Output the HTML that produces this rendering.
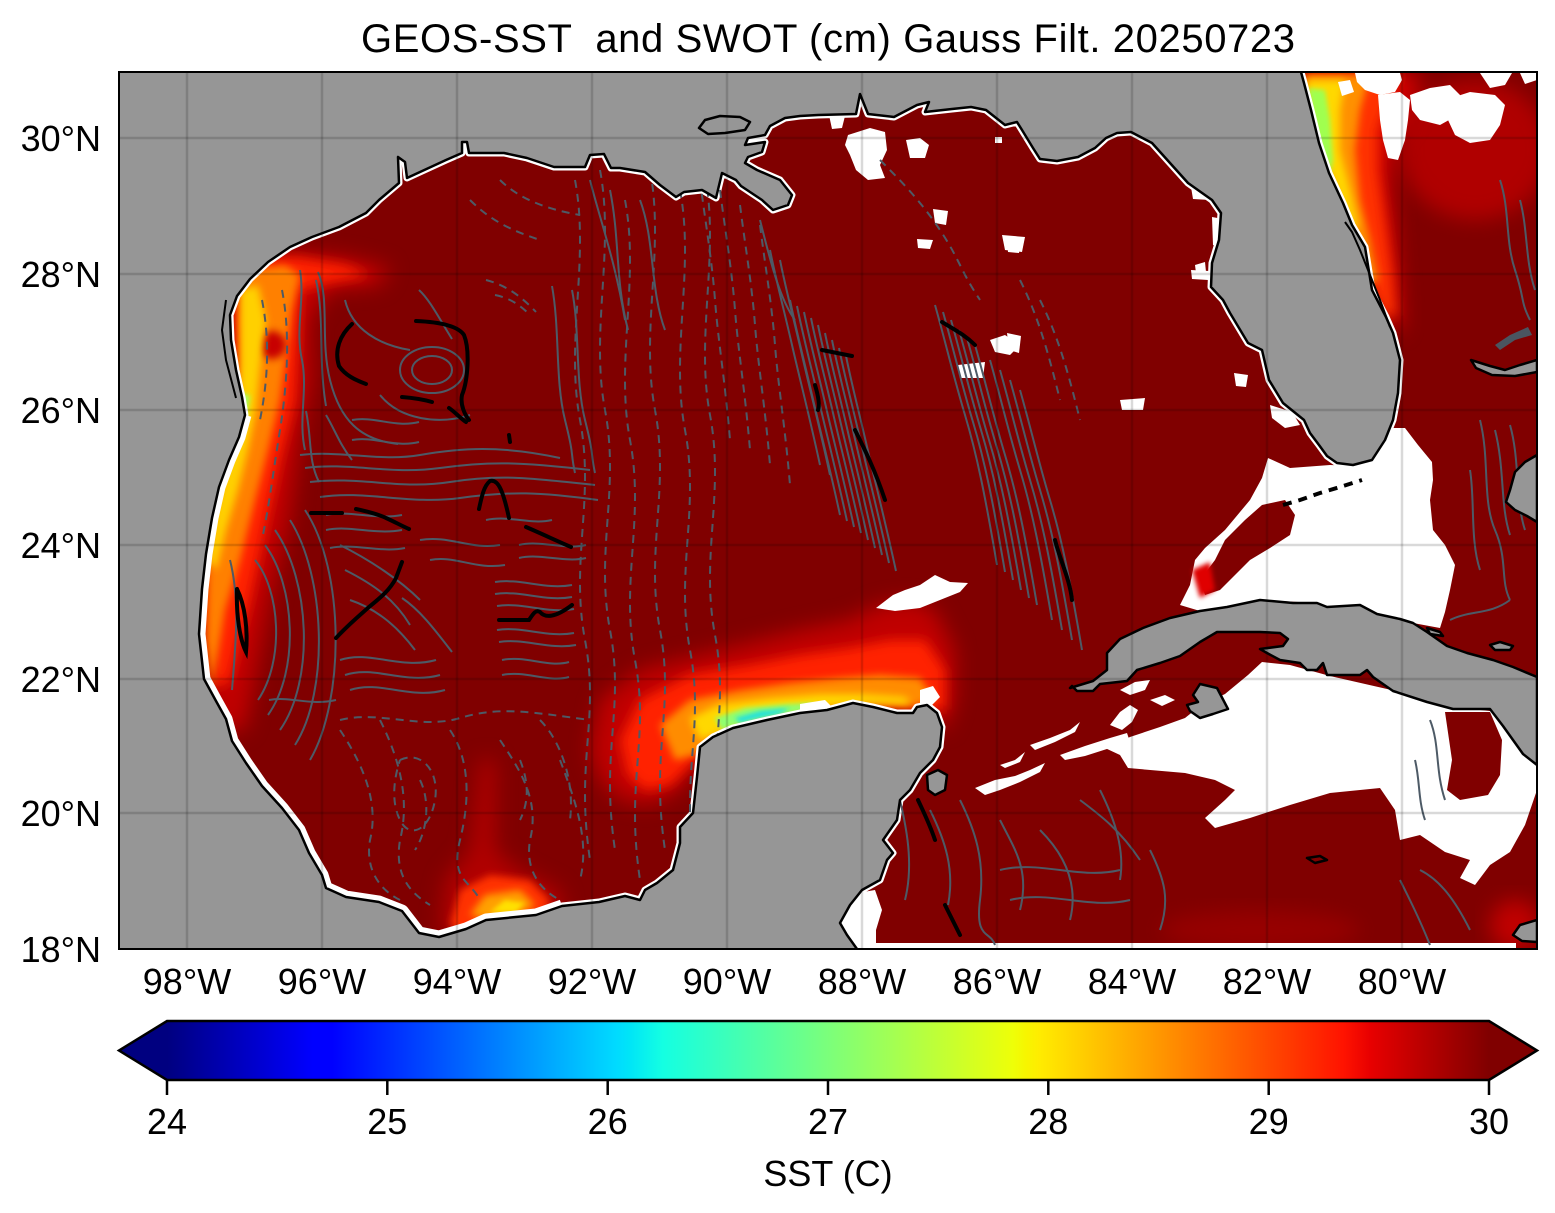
<!DOCTYPE html>
<html><head><meta charset="utf-8"><style>
html,body{margin:0;padding:0;background:#fff;}
svg{display:block;}
text{font-family:"Liberation Sans",Arial,sans-serif;fill:#000;}
</style></head><body>
<svg width="1555" height="1213" viewBox="0 0 1555 1213" xmlns="http://www.w3.org/2000/svg">
<defs>
<clipPath id="frame"><rect x="119" y="72" width="1418" height="877"/></clipPath>
<clipPath id="oc"><path d="M1301,72 L1304,83 1311,110 1319,143 1329,173 1343,203 1352,225 1365,247 1372,290 1386,317 1393,333 1400,360 1398,393 1393,420 1385,440 1372,460 1353,465 1337,463 1327,456 1319,445 1310,433 1304,420 1283,403 1269,380 1262,350 1248,343 1230,313 1223,300 1211,287 1212,263 1219,240 1221,213 1212,200 1188,183 1170,163 1152,143 1131,132 1117,133 1106,138 1095,148 1078,157 1057,161 1040,159 1033,148 1022,130 1017,122 1005,125 986,110 971,107 952,109 925,112 929,102 917,105 894,117 868,114 860,94 856,114 818,115 800,116 785,118 770,126 765,135 748,138 745,145 765,142 762,152 748,157 745,163 757,170 780,180 792,195 788,205 773,210 762,200 741,186 736,180 722,173 716,198 702,190 684,192 676,197 660,185 645,172 620,168 611,168 604,154 590,155 585,167 554,167 527,158 504,153 469,153 467,142 462,142 462,153 446,160 420,172 407,178 405,162 398,157 399,183 379,200 366,213 339,227 312,237 290,247 268,262 250,279 237,296 230,315 231,340 236,370 242,397 245,415 239,437 229,460 219,487 212,518 206,554 202,589 199,634 204,679 216,701 226,719 232,741 246,763 262,786 282,808 299,830 309,853 322,875 326,888 346,897 379,902 402,911 419,933 439,937 466,929 486,920 536,915 562,906 599,902 625,896 640,900 645,890 657,883 673,870 680,843 680,827 693,813 697,777 700,747 713,737 733,728 767,720 800,713 827,710 853,703 873,707 897,713 913,713 917,707 927,705 937,713 942,727 940,747 933,760 920,773 910,790 900,800 897,820 890,830 883,840 893,853 887,860 880,880 862,890 850,905 840,923 847,935 857,949 L1537,949 1537,72 Z"/></clipPath>
<filter id="b10" x="-30%" y="-30%" width="160%" height="160%"><feGaussianBlur stdDeviation="10"/></filter>
<filter id="b6" x="-30%" y="-30%" width="160%" height="160%"><feGaussianBlur stdDeviation="6"/></filter>
<filter id="b4" x="-30%" y="-30%" width="160%" height="160%"><feGaussianBlur stdDeviation="4"/></filter>
<filter id="b2" x="-30%" y="-30%" width="160%" height="160%"><feGaussianBlur stdDeviation="2.5"/></filter>
<linearGradient id="jet" x1="167" y1="0" x2="1489" y2="0" gradientUnits="userSpaceOnUse">
<stop offset="0" stop-color="#000080"/>
<stop offset="0.11" stop-color="#0000ff"/>
<stop offset="0.125" stop-color="#0000ff"/>
<stop offset="0.34" stop-color="#00dbff"/>
<stop offset="0.35" stop-color="#00e5f7"/>
<stop offset="0.375" stop-color="#14ffe2"/>
<stop offset="0.5" stop-color="#7bff7b"/>
<stop offset="0.64" stop-color="#eeff08"/>
<stop offset="0.65" stop-color="#f7f500"/>
<stop offset="0.66" stop-color="#ffec00"/>
<stop offset="0.89" stop-color="#ff1300"/>
<stop offset="0.91" stop-color="#e80000"/>
<stop offset="1" stop-color="#800000"/>
</linearGradient>
<path id="dg" d="M0,0 C6,30 14,60 22,95 S38,160 50,215"/>
<path id="dg2" d="M0,0 C10,35 18,70 30,110 S50,190 62,260"/>
<path id="dd" d="M0,0 C5,40 12,80 15,120 S25,200 30,260"/>
<path id="vw" d="M0,0 C15,80 -10,160 5,240 S-5,380 10,460 S0,580 15,680"/>
<path id="hw" d="M0,0 C20,-5 40,6 60,0 S100,-6 120,0"/>
</defs>

<!-- Title -->
<text x="828" y="52" font-size="40" text-anchor="middle" xml:space="preserve" style="white-space:pre" textLength="934" lengthAdjust="spacing">GEOS-SST  and SWOT (cm) Gauss Filt. 20250723</text>

<!-- Land -->
<rect x="119" y="72" width="1418" height="877" fill="#969696"/>

<g clip-path="url(#frame)">
<rect x="119" y="72" width="1418" height="877" fill="#800000" clip-path="url(#oc)"/>

<g clip-path="url(#oc)">
 <!-- Texas plume -->
 <polygon filter="url(#b10)" fill="#c00000" points="232,255 300,252 350,258 390,268 380,285 330,290 310,320 312,380 300,440 290,520 270,600 255,680 245,730 215,730 200,640 205,540 220,470 232,400 228,320"/>
 <polygon filter="url(#b6)" fill="#ff2400" points="238,260 295,257 345,265 370,275 330,282 300,290 298,340 295,400 280,460 265,530 250,600 230,680 215,690 205,620 210,540 225,470 238,400 233,320"/>
 <polygon filter="url(#b4)" fill="#ff8000" points="242,270 285,265 300,275 292,310 287,350 280,400 268,450 255,500 240,560 225,610 212,690 206,640 208,560 220,490 235,430 242,380 240,320"/>
 <circle filter="url(#b4)" fill="#c80000" cx="272" cy="345" r="14"/>
 <polygon filter="url(#b4)" fill="#ffd000" points="240,290 258,285 266,320 260,370 256,410 248,450 238,490 226,530 216,570 208,560 215,510 228,460 238,420 240,360"/>
 <polygon filter="url(#b2)" fill="#a0ff60" points="240,392 250,396 246,420 237,416"/>
 <!-- Yucatan plume -->
 <polygon filter="url(#b10)" fill="#c00000" points="590,750 600,700 640,670 700,655 760,640 800,630 850,620 880,605 910,600 935,610 955,650 955,700 945,730 920,712 870,708 820,713 770,722 735,730 713,740 700,760 680,790 650,805 620,800 600,780"/>
 <polygon filter="url(#b6)" fill="#ff2400" points="620,740 640,700 690,675 750,665 800,655 850,648 890,640 925,640 945,670 945,710 920,708 870,706 820,710 770,720 735,728 712,740 695,760 670,785 645,790 628,775"/>
 <polygon filter="url(#b4)" fill="#ff8c00" points="660,725 690,700 740,690 790,683 840,678 880,675 920,678 935,700 915,706 870,704 825,708 780,716 740,726 715,738 695,755 675,760"/>
 <polygon filter="url(#b4)" fill="#ffd800" points="690,718 720,704 770,698 820,694 860,694 905,697 912,705 870,704 825,707 785,713 745,722 715,735 700,740"/>
 <polygon filter="url(#b2)" fill="#90ff70" points="715,718 745,708 790,704 815,703 800,712 770,717 740,724 722,730"/>
 <polygon filter="url(#b2)" fill="#20e0e0" points="735,718 760,711 790,708 780,714 755,719 740,723"/>
 <!-- Campeche plume -->
 <polygon filter="url(#b10)" fill="#b00000" points="440,935 445,880 470,850 480,760 495,760 495,850 520,870 560,890 565,915 500,920 460,935"/>
 <polygon filter="url(#b4)" fill="#ff3000" points="450,925 460,890 490,875 530,880 550,900 545,915 490,922 460,932"/>
 <polygon filter="url(#b4)" fill="#ffa000" points="470,915 485,895 520,890 535,905 520,915 490,920"/>
 <polygon filter="url(#b2)" fill="#ffe000" points="490,912 505,900 525,903 515,913"/>
 <!-- Florida Atlantic plume -->
 <ellipse filter="url(#b10)" fill="#c00000" opacity="0.75" cx="1475" cy="150" rx="75" ry="70"/>
 <polygon filter="url(#b10)" fill="#d00000" points="1300,72 1420,72 1415,110 1395,140 1390,180 1395,230 1400,290 1402,330 1390,330 1380,300 1365,250 1340,200 1320,150 1305,90"/>
 <polygon filter="url(#b6)" fill="#ff3000" points="1303,72 1400,72 1390,100 1378,130 1378,170 1385,220 1392,270 1396,315 1385,318 1372,290 1365,250 1343,203 1329,173 1315,125 1304,83"/>
 <polygon filter="url(#b4)" fill="#ff9000" points="1305,75 1370,75 1360,110 1355,150 1360,200 1370,240 1378,280 1370,285 1360,250 1345,210 1330,175 1318,135 1306,90"/>
 <polygon filter="url(#b4)" fill="#ffd800" points="1306,80 1345,80 1340,110 1340,150 1350,190 1358,225 1352,232 1342,205 1328,170 1318,130 1308,95"/>
 <polygon filter="url(#b2)" fill="#a0ff50" points="1308,88 1325,90 1330,120 1333,160 1330,175 1320,150 1313,120"/>
 <!-- Caribbean lighter reds -->
 <ellipse filter="url(#b10)" fill="#a00000" opacity="0.7" cx="1260" cy="930" rx="100" ry="20"/>
 <ellipse filter="url(#b10)" fill="#d00000" opacity="0.8" cx="1515" cy="925" rx="25" ry="25"/>

 <!-- white coastal fringe -->
 <path fill="none" stroke="#fff" stroke-width="7" stroke-linejoin="round" d="M1301,72 L1304,83 1311,110 1319,143 1329,173 1343,203 1352,225 1365,247 1372,290 1386,317 1393,333 1400,360 1398,393 1393,420 1385,440 1372,460 1353,465 1337,463 1327,456 1319,445 1310,433 1304,420 1283,403 1269,380 1262,350 1248,343 1230,313 1223,300 1211,287 1212,263 1219,240 1221,213 1212,200 1188,183 1170,163 1152,143 1131,132 1117,133 1106,138 1095,148 1078,157 1057,161 1040,159 1033,148 1022,130 1017,122 1005,125 986,110 971,107 952,109 925,112 929,102 917,105 894,117 868,114 860,94 856,114 818,115 800,116 785,118 770,126 765,135 748,138 745,145 765,142 762,152 748,157 745,163 757,170 780,180 792,195 788,205 773,210 762,200 741,186 736,180 722,173 716,198 702,190 684,192 676,197 660,185 645,172 620,168 611,168 604,154 590,155 585,167 554,167 527,158 504,153 469,153 467,142 462,142 462,153 446,160 420,172 407,178 405,162 398,157 399,183 379,200 366,213 339,227 312,237 290,247 268,262 250,279 237,296 230,315 231,340 236,370 242,397 245,415 239,437 229,460 219,487 212,518 206,554 202,589 199,634 204,679 216,701 226,719 232,741 246,763 262,786 282,808 299,830 309,853 322,875 326,888 346,897 379,902 402,911 419,933 439,937 466,929 486,920 536,915 562,906 599,902 625,896 640,900 645,890 657,883 673,870 680,843 680,827 693,813 697,777 700,747 713,737 733,728 767,720 800,713 827,710 853,703 873,707 897,713 913,713 917,707 927,705 937,713 942,727 940,747 933,760 920,773 910,790 900,800 897,820 890,830 883,840 893,853 887,860 880,880 862,890 850,905 840,923 847,935 857,949"/>
 <path fill="none" stroke="#fff" stroke-width="13" stroke-linejoin="round" d="M245,415 239,437 229,460 219,487 212,518 206,554 202,589 199,634 204,679 216,701 226,719 232,741 246,763 262,786 282,808 299,830 309,853 322,875 326,888 346,897 379,902 402,911 419,933 439,937 466,929 486,920 536,915 562,906"/>

 <!-- white missing-data patches -->
 <g fill="#fff">
  <polygon points="1355,73 1400,73 1402,80 1395,92 1380,95 1365,90 1357,82"/>
  <polygon points="1378,95 1400,92 1410,100 1408,120 1405,140 1398,160 1388,158 1383,140 1380,120"/>
  <polygon points="1410,95 1430,88 1450,85 1460,95 1458,115 1440,125 1420,120 1412,110"/>
  <polygon points="1445,100 1470,92 1495,95 1505,105 1500,125 1490,140 1470,143 1455,135 1448,120"/>
  <polygon points="1480,73 1512,73 1505,85 1490,88"/>
  <polygon points="1338,82 1350,80 1354,92 1342,96"/>
  <polygon points="1520,73 1537,73 1537,80 1525,84"/>
  <!-- NE gulf -->
  <polygon points="848,135 870,128 885,132 887,150 880,165 885,178 868,180 856,170 850,155 845,145"/>
  <polygon points="906,140 920,138 929,145 925,158 910,158"/>
  <polygon points="829,115 845,116 842,128 832,129"/>
  <polygon points="933,209 948,211 946,225 935,223"/>
  <polygon points="917,239 933,240 930,249 918,248"/>
  <polygon points="1002,235 1025,237 1022,252 1005,250"/>
  <polygon points="995,137 1002,137 1002,143 995,143"/>
  <polygon points="1191,187 1212,189 1210,200 1193,199"/>
  <polygon points="1212,217 1223,219 1221,247 1213,245"/>
  <polygon points="1191,270 1209,271 1208,280 1192,279"/>
  <polygon points="1007,237 1021,239 1019,253 1008,252"/>
  <polygon points="1007,333 1021,336 1019,353 1009,350"/>
  <polygon points="1120,400 1145,398 1143,410 1122,410"/>
  <polygon points="1234,373 1248,375 1246,387 1236,386"/>
  <polygon points="1270,405 1292,412 1300,425 1285,428 1272,418"/>
  <polygon points="958,365 985,362 983,378 960,378"/>
  <polygon points="990,340 1005,335 1020,345 1010,355 995,352"/>
  <polygon points="1195,265 1205,262 1206,272 1196,273"/>
  <!-- mid gulf -->
  <polygon points="876,608 893,595 905,590 920,585 935,575 950,582 968,583 960,592 940,600 920,608 895,611"/>
  <!-- Yucatan coast -->
  <polygon points="800,704 825,700 833,708 815,715 800,716"/>
  <polygon points="920,690 933,686 940,697 932,705 920,703"/>
  <!-- Belize wedge -->
  <polygon points="857,893 875,890 882,910 876,930 876,949 857,949 847,935 840,923 850,905"/>
  <!-- Yucatan channel streaks -->
  <polygon points="975,788 995,780 1015,776 1030,770 1045,763 1040,772 1020,782 1000,790 985,795"/>
  <polygon points="1000,765 1015,760 1025,752 1020,762 1005,768"/>
  <polygon points="1030,745 1050,738 1070,730 1080,722 1075,732 1055,742 1035,750"/>
  <polygon points="1060,755 1085,746 1110,738 1127,733 1130,742 1110,748 1085,756 1065,760"/>
  <polygon points="1110,725 1120,712 1130,705 1138,710 1132,722 1122,730"/>
  <polygon points="1120,690 1135,682 1150,680 1145,690 1130,695"/>
  <polygon points="1150,700 1165,695 1175,700 1162,706"/>
  <!-- north of Cuba -->
  <polygon points="1180,605 1190,585 1195,560 1205,548 1225,530 1240,512 1250,500 1262,478 1268,458 1290,468 1330,465 1355,466 1372,462 1382,446 1390,428 1405,428 1418,445 1432,462 1433,480 1430,500 1433,530 1445,545 1455,565 1450,590 1445,612 1440,628 1413,623 1400,619 1377,614 1360,605 1327,607 1317,603 1260,600 1227,607 1200,611"/>
  <!-- south of Cuba -->
  <polygon points="1105,748 1130,737 1160,727 1185,718 1200,706 1225,694 1248,675 1262,662 1290,665 1330,676 1400,692 1460,708 1500,712 1537,740 1537,790 1525,825 1510,852 1490,865 1475,885 1460,878 1470,860 1445,852 1420,835 1400,840 1395,810 1380,788 1330,793 1290,805 1250,818 1215,828 1205,818 1225,800 1235,790 1215,780 1185,773 1128,768 1120,755"/>
  <rect x="876" y="943" width="640" height="6"/>
 </g>
 <g fill="#800000">
  <polygon points="1215,560 1225,540 1245,520 1262,505 1285,500 1295,515 1290,535 1270,548 1250,560 1235,575 1220,590 1205,595 1200,580"/>
  <polygon points="1445,712 1490,712 1502,740 1500,775 1488,795 1460,800 1447,790 1452,760"/>
  <polygon points="1440,470 1460,470 1470,520 1460,560 1445,545 1436,510"/>
 </g>
 <polygon filter="url(#b2)" fill="#e00000" points="1192,570 1210,562 1215,590 1200,598"/>

 <!-- gray contours -->
 <g fill="none" stroke="#4d5a66" stroke-width="2">
  <path d="M300,270 C305,300 295,330 302,360 C308,390 298,420 305,450"/>
  <path d="M318,272 C330,300 320,340 330,380 C340,420 360,440 398,444"/>
  <path d="M345,300 C352,330 380,345 410,350"/>
  <path d="M316,280 C325,320 318,360 326,406"/>
  <path d="M306,411 C312,440 308,460 319,482"/>
  <path d="M326,415 C335,430 340,445 352,460"/>
  <path d="M352,420 C375,416 395,428 419,422"/>
  <path d="M352,440 C375,436 395,448 419,442"/>
  <path d="M419,290 C430,300 440,320 452,339"/>
  <path d="M552,286 C560,330 555,380 565,420 S570,450 575,473"/>
  <path d="M572,290 C580,330 575,380 585,420 S590,450 595,473"/>
  <ellipse cx="432" cy="370" rx="20" ry="14"/>
  <ellipse cx="432" cy="370" rx="32" ry="23"/>
  <path d="M380,395 C400,420 440,425 470,415"/>
  <path d="M300,455 C340,450 380,462 420,455 S500,445 560,458"/>
  <path d="M305,468 C350,462 390,475 440,468 S520,462 590,470"/>
  <path d="M310,482 C360,476 400,490 450,482 S530,478 595,485"/>
  <path d="M320,497 C365,490 410,505 460,498 S540,492 598,500"/>
  <path d="M326,515 C350,510 375,520 402,515"/>
  <path d="M326,530 C350,525 375,535 402,530"/>
  <path d="M330,548 C355,543 380,553 405,548"/>
  <path d="M486,520 C510,515 530,525 552,520"/>
  <path d="M519,545 C540,540 565,550 586,545"/>
  <path d="M519,558 C540,553 565,563 586,558"/>
  <path d="M255,560 C280,590 285,660 258,700"/>
  <path d="M265,545 C295,585 300,670 268,715"/>
  <path d="M275,530 C310,580 315,680 280,730"/>
  <path d="M290,520 C325,575 330,690 295,745"/>
  <path d="M305,510 C345,570 345,700 310,760"/>
  <path d="M340,545 C370,560 400,580 420,600"/>
  <path d="M345,570 C375,585 395,600 410,625"/>
  <path d="M350,600 C380,610 400,630 415,650"/>
  <path d="M402,598 C420,610 435,630 452,652"/>
  <path d="M495,582 C520,578 545,590 572,585"/>
  <path d="M495,594 C520,590 545,602 572,597"/>
  <path d="M497,606 C522,602 547,614 574,609"/>
  <path d="M497,630 C522,626 547,638 574,633"/>
  <path d="M499,642 C524,638 549,650 576,645"/>
  <path d="M502,660 C525,655 548,668 569,662"/>
  <path d="M502,675 C525,670 548,683 569,677"/>
  <path d="M340,660 C370,650 400,670 436,660"/>
  <path d="M345,675 C375,665 405,685 440,675"/>
  <path d="M350,690 C380,680 410,700 445,690"/>
  <path d="M269,700 C290,696 310,706 336,700"/>
  <path d="M420,540 C450,535 470,550 500,545"/>
  <path d="M430,560 C455,555 475,570 505,565"/>
  <path d="M590,180 C600,220 615,260 625,320"/>
  <path d="M760,220 C770,260 780,300 795,320"/>
  <path d="M640,200 C655,240 650,290 665,330"/>
  <path d="M610,190 C620,240 615,280 628,330"/>
  <path d="M230,560 C240,600 236,640 232,690"/>
 </g>
 <g fill="none" stroke="#4d5a66" stroke-width="2">
  <use href="#dg" x="790" y="300"/><use href="#dg" x="797" y="306"/><use href="#dg" x="804" y="312"/>
  <use href="#dg" x="811" y="318"/><use href="#dg" x="818" y="325"/><use href="#dg" x="825" y="333"/>
  <use href="#dg" x="832" y="340"/><use href="#dg" x="839" y="348"/><use href="#dg" x="846" y="356"/>
  <use href="#dg" x="780" y="260"/><use href="#dg" x="770" y="250"/>
  <use href="#dg2" x="935" y="305"/><use href="#dg2" x="943" y="312"/><use href="#dg2" x="951" y="320"/>
  <use href="#dg2" x="959" y="330"/><use href="#dg2" x="967" y="338"/><use href="#dg2" x="975" y="345"/>
  <use href="#dg2" x="990" y="360"/><use href="#dg2" x="1000" y="370"/><use href="#dg2" x="1010" y="380"/>
  <use href="#dg2" x="1020" y="390"/>
  <path d="M895,780 C905,820 915,860 905,900"/>
  <path d="M930,810 C945,840 955,870 948,905"/>
  <path d="M960,800 C975,830 985,860 980,900 S990,930 995,945"/>
  <path d="M1000,820 C1015,850 1030,870 1020,910"/>
  <path d="M1040,830 C1060,850 1080,880 1070,920"/>
  <path d="M1000,870 C1040,860 1080,880 1120,870"/>
  <path d="M1010,900 C1050,890 1090,910 1130,900"/>
  <path d="M1100,790 C1115,820 1125,850 1120,880"/>
  <path d="M1150,850 C1165,880 1170,900 1160,930"/>
  <path d="M1080,800 C1100,815 1120,830 1140,860"/>
  <path d="M1480,420 C1490,460 1482,500 1495,530 S1500,580 1510,600"/>
  <path d="M1495,430 C1505,470 1500,505 1510,535"/>
  <path d="M1510,425 C1520,460 1515,500 1525,530"/>
  <path d="M1470,470 C1475,500 1470,540 1480,570"/>
  <path d="M1500,180 C1510,210 1505,240 1515,270 S1520,300 1530,320"/>
  <path d="M1520,200 C1528,230 1525,260 1535,290"/>
  <path d="M1430,720 C1440,745 1435,770 1445,800"/>
  <path d="M1415,760 C1420,780 1418,800 1425,820"/>
  <path d="M1450,620 C1470,610 1490,615 1510,600"/>
  <path d="M1420,870 C1440,880 1455,900 1470,930"/>
  <path d="M1400,880 C1410,900 1420,920 1430,945"/>
 </g>
 <g fill="none" stroke="#4d5a66" stroke-width="2" stroke-dasharray="8,6">
  <path d="M340,730 C360,760 380,800 370,840 C365,870 380,890 400,900"/>
  <path d="M380,720 C400,760 410,800 400,840 C395,870 405,890 430,905"/>
  <path d="M400,760 C420,750 440,770 435,800 C430,830 410,840 400,820 C390,800 395,775 400,760"/>
  <path d="M450,730 C470,760 470,800 460,840 S470,880 480,900"/>
  <path d="M500,740 C520,770 540,800 530,840 C525,870 540,890 560,900"/>
  <path d="M540,720 C560,740 575,780 570,820"/>
  <path d="M340,720 C380,710 420,730 460,718 S530,712 590,720"/>
  <path d="M560,760 C575,800 590,840 580,880"/>
  <path d="M420,780 C430,800 428,830 415,850"/>
  <path d="M520,760 C528,780 530,800 520,820"/>
  <path d="M262,300 C270,340 268,380 260,420"/>
  <path d="M282,290 C290,330 288,380 280,430 S270,500 262,540"/>
  <path d="M486,280 C505,285 520,295 536,312"/>
  <path d="M495,295 C510,298 520,305 530,315"/>
  <use href="#vw" x="575" y="180"/><use href="#vw" x="600" y="170"/><use href="#vw" x="625" y="200"/>
  <use href="#vw" x="650" y="170"/><use href="#vw" x="680" y="190"/><use href="#vw" x="705" y="175"/>
  <use href="#dd" x="700" y="180"/><use href="#dd" x="720" y="190"/><use href="#dd" x="740" y="205"/>
  <use href="#dd" x="760" y="225"/>
  <path d="M880,160 C900,180 920,200 940,230 S960,270 980,300"/>
  <path d="M1020,280 C1040,320 1050,360 1060,400"/>
  <path d="M1040,300 C1060,340 1070,380 1080,420"/>
  <path d="M470,200 C490,220 510,230 540,240"/>
  <path d="M500,180 C520,200 550,210 580,215"/>
 </g>
 <!-- black thick contours -->
 <g fill="none" stroke="#000" stroke-width="4" stroke-linecap="round">
  <path d="M352,324 C340,335 334,350 339,366 C345,375 355,380 366,384"/>
  <path d="M416,321 C440,322 458,326 464,335 C470,350 468,380 462,395 C460,405 465,415 469,420"/>
  <path d="M449,408 C455,412 460,418 466,422"/>
  <path d="M402,397 C415,398 425,400 432,402"/>
  <path d="M509,435 L510,442"/>
  <path d="M479,509 C482,495 484,486 490,481 C498,479 503,490 509,518"/>
  <path d="M311,513 L342,513"/>
  <path d="M356,509 C370,512 380,515 386,518 C395,522 402,526 409,529"/>
  <path d="M526,527 C540,533 555,540 571,547"/>
  <path d="M336,638 C348,625 360,615 369,607 C380,598 390,590 396,578 L402,562"/>
  <path d="M237,589 C245,605 248,630 246,652 C240,640 236,615 237,589"/>
  <path d="M499,620 L529,620 C533,614 536,609 540,612 C545,618 555,618 572,605"/>
  <path d="M822,350 L852,356"/>
  <path d="M815,385 C818,395 820,405 818,410"/>
  <path d="M855,430 C865,450 875,470 885,500"/>
  <path d="M942,322 C955,330 965,335 975,345"/>
  <path d="M1055,540 C1060,560 1070,580 1072,600"/>
  <path d="M918,800 C925,815 930,825 935,840"/>
  <path d="M945,905 C950,915 955,925 960,935"/>
 </g>
</g>

<!-- land features on top -->
<g fill="#969696" stroke="#000" stroke-width="2.5" stroke-linejoin="round">
 <path d="M1070,688 L1093,681 1107,670 1107,653 1120,639 1143,628 1170,618 1200,611 1227,607 1260,600 1293,603 1317,603 1327,607 1360,605 1377,614 1400,619 1413,623 1427,632 1447,646 1467,653 1493,660 1513,667 1537,677 L1537,765 1523,754 1503,726 1490,709 1453,709 1427,702 1393,691 1373,677 1367,670 1360,675 1327,675 1323,663 1317,670 1307,670 1300,663 1280,660 1267,653 1260,649 1283,646 1288,639 1280,633 1260,632 1217,632 1200,642 1180,656 1160,663 1137,670 1127,681 1100,684 1093,691 1077,691 1072,686 Z"/>
 <path d="M1200,684 L1217,688 1228,709 1213,714 1200,718 1190,711 1187,705 1198,702 1193,695 Z"/>
 <path d="M1537,920 L1520,925 1513,935 1522,941 1537,942 Z"/>
 <path d="M1471,360 L1490,366 1505,370 1520,365 1537,360 L1537,372 1515,376 1492,375 1476,368 Z"/>
 <path d="M1537,455 L1525,462 1515,472 1510,490 1506,502 1515,510 1527,516 1537,522 Z"/>
 <path d="M1490,645 L1500,642 1513,646 1510,650 1495,650 Z"/>
 <path d="M699,128 L705,120 720,116 740,117 750,122 745,130 725,133 708,134 Z"/>
 <path d="M927,775 L938,770 947,775 945,790 935,795 928,790 Z"/>
 <path d="M1307,858 L1320,856 1327,860 1315,863 Z" fill="#800000"/>
 <path d="M1427,628 L1440,632 1443,636 1430,634 Z"/>
</g>
<path d="M1495,345 L1510,335 1528,327 1532,335 1515,340 1500,350 Z" fill="#4a5560"/>

<!-- coastline -->
<path fill="none" stroke="#000" stroke-width="2.5" stroke-linejoin="round" d="M1301,72 L1304,83 1311,110 1319,143 1329,173 1343,203 1352,225 1365,247 1372,290 1386,317 1393,333 1400,360 1398,393 1393,420 1385,440 1372,460 1353,465 1337,463 1327,456 1319,445 1310,433 1304,420 1283,403 1269,380 1262,350 1248,343 1230,313 1223,300 1211,287 1212,263 1219,240 1221,213 1212,200 1188,183 1170,163 1152,143 1131,132 1117,133 1106,138 1095,148 1078,157 1057,161 1040,159 1033,148 1022,130 1017,122 1005,125 986,110 971,107 952,109 925,112 929,102 917,105 894,117 868,114 860,94 856,114 818,115 800,116 785,118 770,126 765,135 748,138 745,145 765,142 762,152 748,157 745,163 757,170 780,180 792,195 788,205 773,210 762,200 741,186 736,180 722,173 716,198 702,190 684,192 676,197 660,185 645,172 620,168 611,168 604,154 590,155 585,167 554,167 527,158 504,153 469,153 467,142 462,142 462,153 446,160 420,172 407,178 405,162 398,157 399,183 379,200 366,213 339,227 312,237 290,247 268,262 250,279 237,296 230,315 231,340 236,370 242,397 245,415 239,437 229,460 219,487 212,518 206,554 202,589 199,634 204,679 216,701 226,719 232,741 246,763 262,786 282,808 299,830 309,853 322,875 326,888 346,897 379,902 402,911 419,933 439,937 466,929 486,920 536,915 562,906 599,902 625,896 640,900 645,890 657,883 673,870 680,843 680,827 693,813 697,777 700,747 713,737 733,728 767,720 800,713 827,710 853,703 873,707 897,713 913,713 917,707 927,705 937,713 942,727 940,747 933,760 920,773 910,790 900,800 897,820 890,830 883,840 893,853 887,860 880,880 862,890 850,905 840,923 847,935 857,949"/>
<path fill="none" stroke="#000" stroke-width="2" d="M1345,222 L1352,232 1360,250 1370,275 1380,300 1390,327"/>
<path fill="none" stroke="#000" stroke-width="2" d="M226,300 L222,330 226,360 236,398"/>
<path fill="none" stroke="#000" stroke-width="4" stroke-dasharray="9,7" d="M1283,505 L1300,500 1320,493 1340,487 1362,480"/>

<!-- gridlines -->
<g stroke="#000" stroke-opacity="0.15" stroke-width="2.5">
 <line x1="187" y1="72" x2="187" y2="949"/><line x1="322" y1="72" x2="322" y2="949"/>
 <line x1="457" y1="72" x2="457" y2="949"/><line x1="592" y1="72" x2="592" y2="949"/>
 <line x1="727" y1="72" x2="727" y2="949"/><line x1="862" y1="72" x2="862" y2="949"/>
 <line x1="997" y1="72" x2="997" y2="949"/><line x1="1132" y1="72" x2="1132" y2="949"/>
 <line x1="1267" y1="72" x2="1267" y2="949"/><line x1="1402" y1="72" x2="1402" y2="949"/>
 <line x1="119" y1="138" x2="1537" y2="138"/><line x1="119" y1="274" x2="1537" y2="274"/>
 <line x1="119" y1="410" x2="1537" y2="410"/><line x1="119" y1="545" x2="1537" y2="545"/>
 <line x1="119" y1="679" x2="1537" y2="679"/><line x1="119" y1="813" x2="1537" y2="813"/>
</g>
</g>

<!-- frame -->
<rect x="119" y="72" width="1418" height="877" fill="none" stroke="#000" stroke-width="2"/>

<!-- axis labels -->
<g font-size="36" text-anchor="end">
 <text x="101" y="151">30°N</text>
 <text x="101" y="287">28°N</text>
 <text x="101" y="423">26°N</text>
 <text x="101" y="558">24°N</text>
 <text x="101" y="692">22°N</text>
 <text x="101" y="826">20°N</text>
 <text x="101" y="962">18°N</text>
</g>
<g font-size="36" text-anchor="middle">
 <text x="187" y="994">98°W</text>
 <text x="322" y="994">96°W</text>
 <text x="457" y="994">94°W</text>
 <text x="592" y="994">92°W</text>
 <text x="727" y="994">90°W</text>
 <text x="862" y="994">88°W</text>
 <text x="997" y="994">86°W</text>
 <text x="1132" y="994">84°W</text>
 <text x="1267" y="994">82°W</text>
 <text x="1402" y="994">80°W</text>
</g>

<!-- colorbar -->
<polygon points="167,1021 119,1050.5 167,1080" fill="#000080"/>
<polygon points="1489,1021 1537,1050.5 1489,1080" fill="#800000"/>
<rect x="167" y="1021" width="1322" height="59" fill="url(#jet)"/>
<polygon points="167,1021 1489,1021 1537,1050.5 1489,1080 167,1080 119,1050.5" fill="none" stroke="#000" stroke-width="2.5" stroke-linejoin="miter"/>
<g stroke="#000" stroke-width="2.5">
 <line x1="167" y1="1080" x2="167" y2="1095"/>
 <line x1="387.3" y1="1080" x2="387.3" y2="1095"/>
 <line x1="607.7" y1="1080" x2="607.7" y2="1095"/>
 <line x1="828" y1="1080" x2="828" y2="1095"/>
 <line x1="1048.3" y1="1080" x2="1048.3" y2="1095"/>
 <line x1="1268.7" y1="1080" x2="1268.7" y2="1095"/>
 <line x1="1489" y1="1080" x2="1489" y2="1095"/>
</g>
<g font-size="36" text-anchor="middle">
 <text x="167" y="1134">24</text>
 <text x="387.3" y="1134">25</text>
 <text x="607.7" y="1134">26</text>
 <text x="828" y="1134">27</text>
 <text x="1048.3" y="1134">28</text>
 <text x="1268.7" y="1134">29</text>
 <text x="1489" y="1134">30</text>
 <text x="828" y="1186">SST (C)</text>
</g>
</svg>
</body></html>
